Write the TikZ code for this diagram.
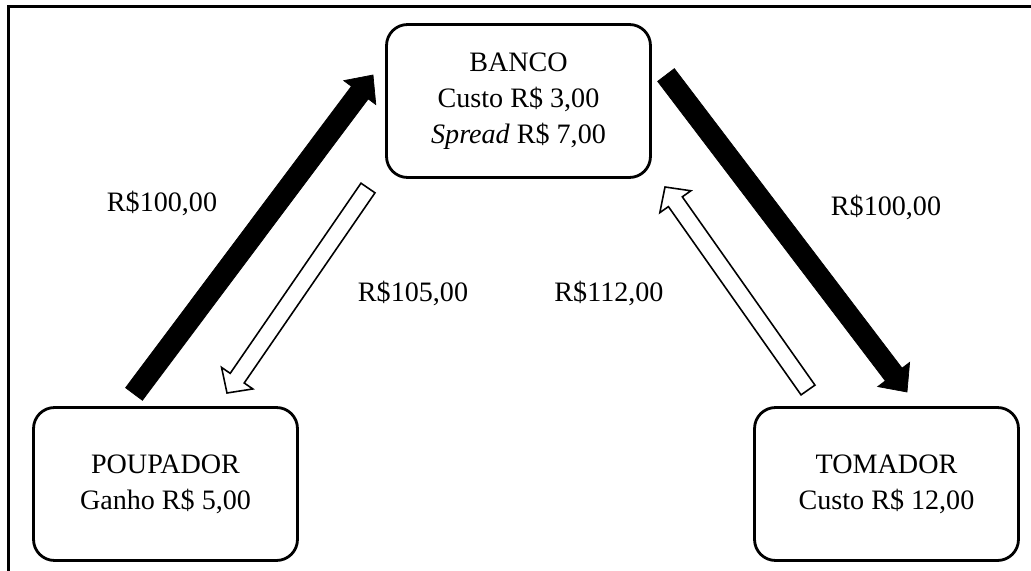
\documentclass[tikz,border=0pt]{standalone}
\usepackage{fontspec}
\setmainfont{Liberation Serif}
\usetikzlibrary{calc}

\newcommand{\blockarrow}[6]{%
  \coordinate (ah) at ($(#3)!#6!(#2)$);
  \filldraw[#1] ($(#2)!#4!90:(#3)$) -- ($(ah)!#4!-90:(#2)$) -- ($(ah)!#5!-90:(#2)$) -- (#3)
    -- ($(ah)!#5!90:(#2)$) -- ($(ah)!#4!90:(#2)$) -- ($(#2)!#4!-90:(#3)$) -- cycle;
}

\begin{document}
\begin{tikzpicture}[
  x=0.02cm, y=-0.02cm,
  every node/.style={font=\fontsize{16}{20.5}\selectfont},
  box/.style={draw, line width=1.6pt, rounded corners=0.42cm, align=center, minimum width=5.28cm, minimum height=3.06cm, inner sep=0pt},
  value/.style={inner sep=1pt},
  flow/.style={fill=black, draw=black, line width=0.4pt, line join=miter},
  back/.style={fill=white, draw=black, line width=0.9pt, line join=miter},
  frame/.style={line width=1.2pt}
  ]
	\useasboundingbox (0,0) rectangle (1031,571);
	\draw[frame] (8.5,571) |- (1031,6.5);

	\node[box] (banco) at (518.5,101) {BANCO\\Custo R\$ 3,00\\\textit{Spread} R\$ 7,00};
	\node[box] (poupador) at (165.5,484) {POUPADOR\\Ganho R\$ 5,00};
	\node[box] (tomador) at (886.5,484) {TOMADOR\\Custo R\$ 12,00};

	\coordinate (dep1) at (134,394);
	\coordinate (dep2) at (373,75);
	\coordinate (emp1) at (666,75);
	\coordinate (emp2) at (907,392);
	\coordinate (jur1) at (368,188);
	\coordinate (jur2) at (227,393);
	\coordinate (pag1) at (808,390);
	\coordinate (pag2) at (665,187);

	\blockarrow{flow}{dep1}{dep2}{0.21cm}{0.4cm}{0.44cm}
	\blockarrow{flow}{emp1}{emp2}{0.21cm}{0.4cm}{0.44cm}
	\blockarrow{back}{jur1}{jur2}{0.17cm}{0.38cm}{0.36cm}
	\blockarrow{back}{pag1}{pag2}{0.17cm}{0.38cm}{0.36cm}

	\node[value] (v1) at (162,203) {R\$100,00};
	\node[value] (v2) at (413,293) {R\$105,00};
	\node[value] (v3) at (609,293) {R\$112,00};
	\node[value] (v4) at (886,207) {R\$100,00};

\end{tikzpicture}
\end{document}
